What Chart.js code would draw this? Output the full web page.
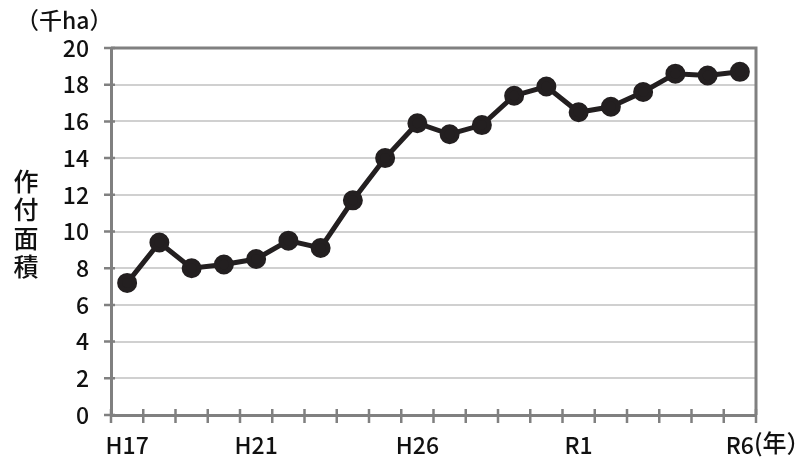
<!DOCTYPE html>
<html>
<head>
<meta charset="utf-8">
<script src="https://cdn.jsdelivr.net/npm/chart.js@4/dist/chart.umd.min.js"></script>
<style>
html,body{margin:0;padding:0;background:#fff;}
#wrap{width:804px;height:463px;position:relative;}
</style>
</head>
<body>
<div id="wrap"><canvas id="c" width="804" height="463"></canvas></div>
<script>
const categories = ["H17","H18","H19","H20","H21","H22","H23","H24","H25","H26","H27","H28","H29","H30","R1","R2","R3","R4","R5","R6"];
const shownLabels = ["H17","H21","H26","R1","R6"];
const areaValues = [7.2,9.4,8.0,8.2,8.5,9.5,9.1,11.7,14.0,15.9,15.3,15.8,17.4,17.9,16.5,16.8,17.6,18.6,18.5,18.7];
const yTicks = [0,2,4,6,8,10,12,14,16,18,20];
const unitLabel = "（千ha）";
const yTitleChars = ["作","付","面","積"];
const xUnitSuffix = "(年）";

const FONT = '"Noto Sans CJK JP", "Noto Sans", sans-serif';
const WEIGHT = '500';
const AXIS = '#808080';
const TEXT = '#111111';

const decorPlugin = {
  id: 'decor',
  beforeDatasetsDraw(chart) {
    const {ctx, chartArea: a, scales} = chart;
    ctx.save();
    ctx.strokeStyle = AXIS;
    ctx.lineWidth = 3;
    ctx.beginPath();
    ctx.moveTo(a.left, a.top);
    ctx.lineTo(a.right, a.top);
    ctx.lineTo(a.right, a.bottom);
    ctx.stroke();
    ctx.lineWidth = 2.5;
    ctx.beginPath();
    yTicks.forEach(v => {
      const y = scales.y.getPixelForValue(v);
      ctx.moveTo(a.left - 7, y);
      ctx.lineTo(a.left + 4, y);
    });
    const n = categories.length;
    for (let i = 0; i <= n; i++) {
      const x = i < n ? scales.x.getPixelForValue(i) - (a.right - a.left) / n / 2 : a.right;
      ctx.moveTo(x, a.bottom - 6);
      ctx.lineTo(x, a.bottom + 8);
    }
    ctx.stroke();
    ctx.restore();
  },
  afterDraw(chart) {
    const {ctx, scales} = chart;
    ctx.save();
    ctx.fillStyle = TEXT;
    ctx.font = WEIGHT + ' 23px ' + FONT;
    ctx.textBaseline = 'middle';
    ctx.textAlign = 'left';
    ctx.fillText(unitLabel, 16, 20);
    ctx.font = WEIGHT + ' 25px ' + FONT;
    ctx.textAlign = 'center';
    yTitleChars.forEach((ch, i) => ctx.fillText(ch, 26, 181 + i * 28.5));
    const lastX = scales.x.getPixelForValue(categories.length - 1);
    ctx.font = WEIGHT + ' 24px ' + FONT;
    ctx.textAlign = 'left';
    ctx.fillText(xUnitSuffix, lastX + 14, 443);
    ctx.restore();
  }
};

new Chart(document.getElementById('c'), {
  type: 'line',
  data: {
    labels: categories,
    datasets: [{
      data: areaValues,
      borderColor: '#231f20',
      backgroundColor: '#231f20',
      borderWidth: 5,
      pointRadius: 7.5,
      pointHoverRadius: 7.5,
      tension: 0,
      fill: false
    }]
  },
  options: {
    responsive: false,
    animation: false,
    events: [],
    layout: {padding: {top: 48, right: 48, left: 0, bottom: 0}},
    plugins: {legend: {display: false}, tooltip: {enabled: false}, title: {display: false}},
    scales: {
      x: {
        type: 'category',
        offset: true,
        grid: {display: false, drawTicks: false},
        border: {display: true, color: AXIS, width: 3},
        ticks: {
          autoSkip: false, maxRotation: 0, minRotation: 0,
          color: TEXT, font: {family: FONT, size: 23, weight: WEIGHT}, padding: 16,
          callback: function(v, i) { const l = categories[i]; return shownLabels.includes(l) ? l : ''; }
        },
        afterFit(s) { s.height = 48; }
      },
      y: {
        min: 0, max: 20,
        afterBuildTicks(s) { s.ticks = yTicks.map(v => ({value: v})); },
        grid: {color: '#d0d0d0', lineWidth: 2, drawTicks: false},
        border: {display: true, color: AXIS, width: 3},
        ticks: {color: TEXT, font: {family: FONT, size: 23, weight: WEIGHT}, padding: 22},
        afterFit(s) { s.width = 111; }
      }
    }
  },
  plugins: [decorPlugin]
});
</script>
</body>
</html>
